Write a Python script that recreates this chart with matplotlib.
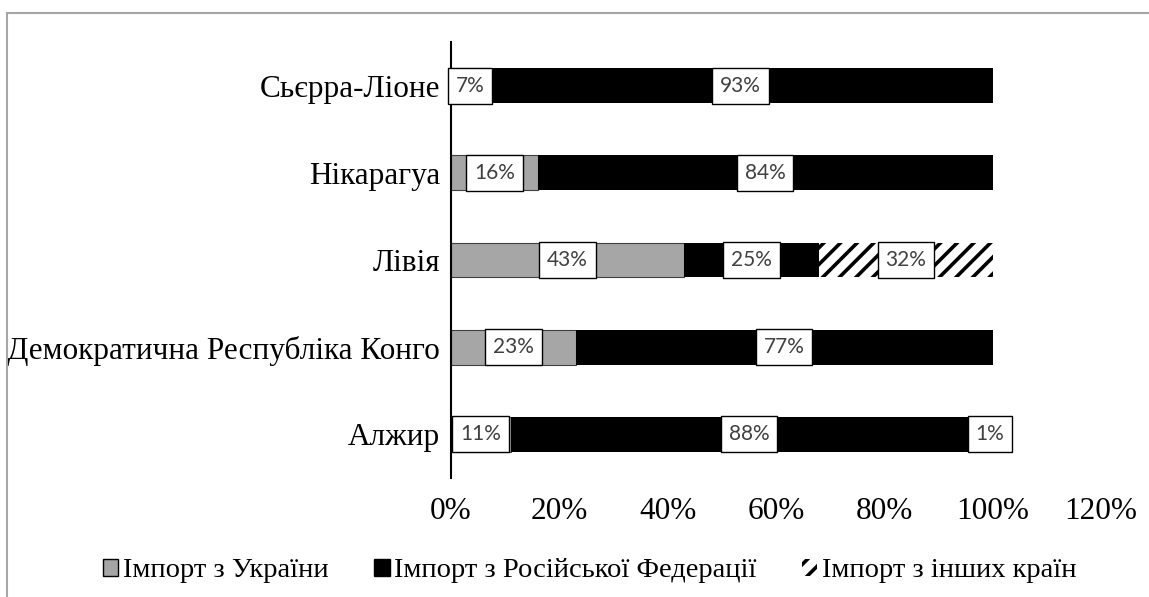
import numpy as np
import matplotlib
matplotlib.use("Agg")
import matplotlib.pyplot as plt
from matplotlib.patches import Patch, Rectangle

# Дані: частки імпорту (%)
countries = ["Алжир", "Демократична Республіка Конго", "Лівія", "Нікарагуа", "Сьєрра-Ліоне"]
ukraine = [11, 23, 43, 16, 7]
russia = [88, 77, 25, 84, 93]
others = [1, 0, 32, 0, 0]
series_names = ["Імпорт з України", "Імпорт з Російської Федерації", "Імпорт з інших країн"]
xticks = [0, 20, 40, 60, 80, 100, 120]

plt.rcParams["font.family"] = ["Liberation Serif", "DejaVu Serif"]
plt.rcParams["hatch.linewidth"] = 2.6

fig = plt.figure(figsize=(11.49, 5.97), dpi=100)
ax = fig.add_axes([451 / 1149, 1 - 478 / 597, 650 / 1149, 436 / 597])

y = np.arange(len(countries))
h = 0.4
ukr = np.array(ukraine)
rus = np.array(russia)
oth = np.array(others)

ax.barh(y, ukr, h, color="#a6a6a6", edgecolor="#404040", linewidth=0.8)
ax.barh(y, rus, h, left=ukr, color="black", linewidth=0)
ax.barh(y, oth, h, left=ukr + rus, color="white", edgecolor="black",
        hatch="//", linewidth=0)

# Підписи даних
lbl = dict(ha="center", va="center", fontsize=15, color="#404040",
           family=["Lato", "DejaVu Sans"],
           bbox=dict(boxstyle="square,pad=0.38", fc="white", ec="black", lw=1))
for i in range(len(countries)):
    starts = [0, ukr[i], ukr[i] + rus[i]]
    for v, s in zip([ukr[i], rus[i], oth[i]], starts):
        if v > 0:
            ax.text(s + v / 2, y[i], f"{v}%", **lbl)

ax.set_xlim(0, 120)
ax.set_ylim(-0.5, len(countries) - 0.5)
ax.set_xticks(xticks)
ax.set_xticklabels([f"{t}%" for t in xticks], fontsize=22.5)
ax.set_yticks(y)
ax.set_yticklabels(countries, fontsize=22.5)
ax.tick_params(axis="x", length=0, pad=14)
ax.tick_params(axis="y", length=0, pad=8)
for s in ["top", "right", "bottom"]:
    ax.spines[s].set_visible(False)
ax.spines["left"].set_linewidth(1.5)

handles = [
    Patch(facecolor="#a6a6a6", edgecolor="black", linewidth=1),
    Patch(facecolor="black", edgecolor="black"),
    Patch(facecolor="white", edgecolor="black", hatch="//", linewidth=0),
]
fig.legend(handles, series_names, loc="center", bbox_to_anchor=(0.513, 0.044),
           ncol=3, frameon=False, fontsize=20.5, handlelength=0.55, handleheight=0.55,
           handletextpad=0.15, columnspacing=1.6)

# Рамка області діаграми
fig.add_artist(Rectangle((7 / 1149, -0.1), 1.2, 1 - 13 / 597 + 0.1,
                         transform=fig.transFigure, fill=False,
                         edgecolor="#a6a6a6", linewidth=1.5))

fig.savefig("out.png", dpi=100)
